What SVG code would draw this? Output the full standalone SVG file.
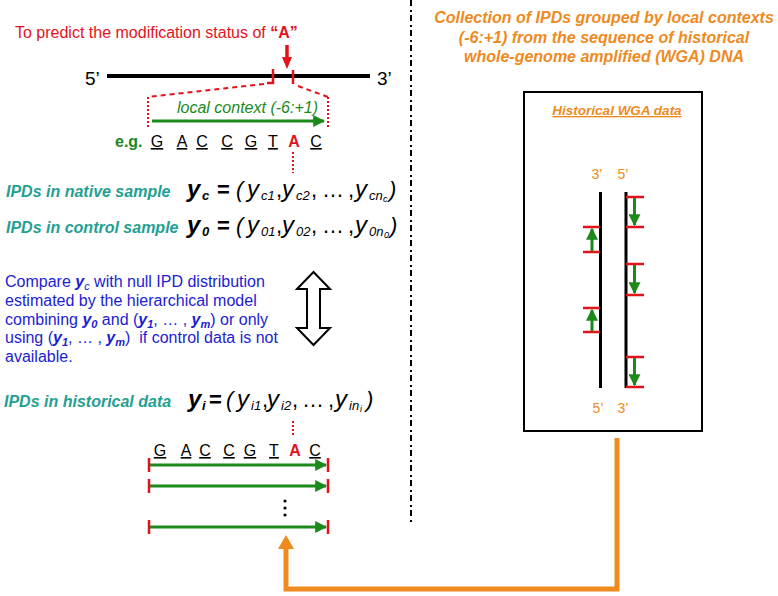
<svg xmlns="http://www.w3.org/2000/svg" width="778" height="596" viewBox="0 0 778 596">
<style>
text{font-family:"Liberation Sans",Arial,sans-serif}
.red{fill:#e3121b}
.grn{fill:#1b8a1b}
.teal{fill:#1fa093;font-weight:bold;font-style:italic;font-size:16px}
.blue{fill:#1c1cd4;font-size:16px}
.org{fill:#ee8a1e}
.seq{font-size:16px;text-anchor:middle;text-decoration:underline}
.fy{font-size:24px;font-style:italic}
.fb{font-weight:bold}
.fs{font-size:13px;font-style:italic}
.fss{font-size:9px;font-style:italic}
.fn{font-size:22px}
.gline{stroke:#1b8a1b;stroke-width:3;fill:none}
.rbar{stroke:#e3121b;stroke-width:2.5}
.rdot{stroke:#e3121b;stroke-width:2;stroke-dasharray:2 2;fill:none}
.rdash{stroke:#e3121b;stroke-width:2;stroke-dasharray:5 4;fill:none}
</style>
<defs>
<marker id="ga" viewBox="0 0 10 10" refX="9" refY="5" markerWidth="4" markerHeight="4" markerUnits="strokeWidth" orient="auto">
<path d="M0,0 L10,5 L0,10 Z" fill="#1b8a1b"/>
</marker>
</defs>

<!-- separator -->
<line x1="411" y1="0" x2="411" y2="525" stroke="#000" stroke-width="2" stroke-dasharray="6 4 2 3"/>

<g id="prediction-header">
<text x="15" y="38" class="red" font-size="16">To predict the modification status of <tspan font-weight="bold">“A”</tspan></text>
<path d="M287,45 V58" stroke="#e3121b" stroke-width="3.5"/>
<path d="M282,57 L292,57 L287,69 Z" fill="#e3121b"/>
</g>

<g id="dna-strand">
<text x="85" y="85" font-size="19">5’</text>
<text x="377" y="85" font-size="19">3’</text>
<line x1="107" y1="76" x2="370" y2="76" stroke="#000" stroke-width="4"/>
<path d="M267,83 H273 V69" class="rbar" fill="none"/>
<line x1="293" y1="70" x2="293" y2="84" class="rbar"/>
<path d="M264,84 L148,97" class="rdash"/>
<path d="M298,86 L328,97" class="rdash"/>
<line x1="148" y1="97" x2="148" y2="128" class="rdot"/>
<line x1="328" y1="97" x2="328" y2="128" class="rdot"/>
</g>

<g id="local-context">
<text x="177" y="113" class="grn" font-size="16" font-style="italic">local context (-6:+1)</text>
<line x1="152" y1="121" x2="324" y2="121" class="gline" marker-end="url(#ga)"/>
</g>

<g id="example-sequence">
<text x="115" y="147" class="grn" font-size="16" font-weight="bold">e.g.</text>
<text x="157" y="147" class="seq">G</text>
<text x="182" y="147" class="seq">A</text>
<text x="202" y="147" class="seq">C</text>
<text x="227" y="147" class="seq">C</text>
<text x="251" y="147" class="seq">G</text>
<text x="273" y="147" class="seq">T</text>
<text x="294" y="147" font-size="16" text-anchor="middle" font-weight="bold" class="red">A</text>
<text x="316" y="147" class="seq">C</text>
<line x1="293" y1="152" x2="293" y2="173" class="rdot"/>
</g>

<g id="native-ipds">
<text x="6" y="197" class="teal">IPDs in native sample</text>
<text y="197"><tspan x="187" class="fy fb">y</tspan><tspan x="202" dy="3" class="fs fb">c</tspan><tspan x="217" dy="-3" class="fn fb">=</tspan><tspan x="236" class="fn" font-style="italic">(</tspan><tspan x="247" class="fy">y</tspan><tspan x="261" dy="3" class="fs">c1</tspan><tspan x="276" dy="-3" class="fn">,</tspan><tspan x="282" class="fy">y</tspan><tspan x="296" dy="3" class="fs">c2</tspan><tspan x="311" dy="-3" class="fn">,</tspan><tspan x="322" class="fn">…</tspan><tspan x="348" class="fn">,</tspan><tspan x="355" class="fy">y</tspan><tspan x="369" dy="3" class="fs">cn</tspan><tspan x="383" dy="2" class="fss">c</tspan><tspan x="389" dy="-5" class="fn" font-style="italic">)</tspan></text>
</g>

<g id="control-ipds">
<text x="6" y="233" class="teal">IPDs in control sample</text>
<text y="233"><tspan x="187" class="fy fb">y</tspan><tspan x="202" dy="3" class="fs fb">0</tspan><tspan x="217" dy="-3" class="fn fb">=</tspan><tspan x="236" class="fn" font-style="italic">(</tspan><tspan x="247" class="fy">y</tspan><tspan x="261" dy="3" class="fs">01</tspan><tspan x="276" dy="-3" class="fn">,</tspan><tspan x="282" class="fy">y</tspan><tspan x="296" dy="3" class="fs">02</tspan><tspan x="311" dy="-3" class="fn">,</tspan><tspan x="322" class="fn">…</tspan><tspan x="348" class="fn">,</tspan><tspan x="355" class="fy">y</tspan><tspan x="369" dy="3" class="fs">0n</tspan><tspan x="384" dy="2" class="fss">0</tspan><tspan x="390" dy="-5" class="fn" font-style="italic">)</tspan></text>
</g>

<g id="compare-note">
<text x="5" y="287" class="blue">Compare <tspan font-weight="bold" font-style="italic">y</tspan><tspan font-size="11" font-style="italic" dy="3">c</tspan><tspan dy="-3"> with null IPD distribution</tspan></text>
<text x="5" y="306" class="blue">estimated by the hierarchical model</text>
<text x="5" y="325" class="blue">combining <tspan font-weight="bold" font-style="italic">y</tspan><tspan font-size="11" font-weight="bold" font-style="italic" dy="3">0</tspan><tspan dy="-3"> and (</tspan><tspan font-weight="bold" font-style="italic">y</tspan><tspan font-size="11" font-weight="bold" font-style="italic" dy="3">1</tspan><tspan dy="-3">, … , </tspan><tspan font-weight="bold" font-style="italic">y</tspan><tspan font-size="11" font-weight="bold" font-style="italic" dy="3">m</tspan><tspan dy="-3">) or only</tspan></text>
<text x="5" y="343" class="blue">using (<tspan font-weight="bold" font-style="italic">y</tspan><tspan font-size="11" font-weight="bold" font-style="italic" dy="3">1</tspan><tspan dy="-3">, … , </tspan><tspan font-weight="bold" font-style="italic">y</tspan><tspan font-size="11" font-weight="bold" font-style="italic" dy="3">m</tspan><tspan dy="-3">)&#160; if control data is not</tspan></text>
<text x="5" y="362" class="blue">available.</text>
</g>

<g id="double-arrow">
<polygon points="313.5,272 330,289 320,289 320,328 330,328 313.5,345 297,328 307,328 307,289 297,289" fill="#fff" stroke="#000" stroke-width="2" stroke-linejoin="miter"/>
</g>

<g id="historical-ipds">
<text x="4" y="407" class="teal">IPDs in historical data</text>
<text y="407"><tspan x="188" class="fy fb">y</tspan><tspan x="202" dy="3" class="fs fb">i</tspan><tspan x="209" dy="-3" class="fn fb">=</tspan><tspan x="226" class="fn" font-style="italic">(</tspan><tspan x="237" class="fy">y</tspan><tspan x="251" dy="3" class="fs">i1</tspan><tspan x="262" dy="-3" class="fn">,</tspan><tspan x="267" class="fy">y</tspan><tspan x="281" dy="3" class="fs">i2</tspan><tspan x="292" dy="-3" class="fn">,</tspan><tspan x="302" class="fn">…</tspan><tspan x="328" class="fn">,</tspan><tspan x="335" class="fy">y</tspan><tspan x="349" dy="3" class="fs">in</tspan><tspan x="360" dy="2" class="fss">i</tspan><tspan x="366" dy="-5" class="fn" font-style="italic">)</tspan></text>
<line x1="293" y1="421" x2="293" y2="437" class="rdot"/>
</g>

<g id="historical-contexts">
<text x="160" y="456" class="seq">G</text>
<text x="186" y="456" class="seq">A</text>
<text x="205" y="456" class="seq">C</text>
<text x="229" y="456" class="seq">C</text>
<text x="250" y="456" class="seq">G</text>
<text x="274" y="456" class="seq">T</text>
<text x="295" y="456" font-size="16" text-anchor="middle" font-weight="bold" class="red">A</text>
<text x="315" y="456" class="seq">C</text>
<line x1="150" y1="465" x2="326" y2="465" class="gline" marker-end="url(#ga)"/>
<line x1="150" y1="486" x2="326" y2="486" class="gline" marker-end="url(#ga)"/>
<line x1="150" y1="527" x2="326" y2="527" class="gline" marker-end="url(#ga)"/>
<line x1="149" y1="458" x2="149" y2="472" class="rbar"/>
<line x1="328" y1="458" x2="328" y2="472" class="rbar"/>
<line x1="149" y1="479" x2="149" y2="493" class="rbar"/>
<line x1="328" y1="479" x2="328" y2="493" class="rbar"/>
<line x1="149" y1="520" x2="149" y2="534" class="rbar"/>
<line x1="328" y1="520" x2="328" y2="534" class="rbar"/>
<circle cx="285" cy="501" r="1.6"/>
<circle cx="285" cy="508" r="1.6"/>
<circle cx="285" cy="515" r="1.6"/>
</g>

<g id="wga-title">
<text x="604" y="23" class="org" font-size="16" font-weight="bold" font-style="italic" text-anchor="middle">Collection of IPDs grouped by local contexts</text>
<text x="604" y="43" class="org" font-size="16" font-weight="bold" font-style="italic" text-anchor="middle">(-6:+1) from the sequence of historical</text>
<text x="604" y="62" class="org" font-size="16" font-weight="bold" font-style="italic" text-anchor="middle">whole-genome amplified (WGA) DNA</text>
</g>

<g id="wga-box">
<rect x="524" y="92" width="178" height="339" fill="#fff" stroke="#000" stroke-width="2"/>
<text x="617" y="115" class="org" font-size="13.5" font-weight="bold" font-style="italic" text-anchor="middle" text-decoration="underline">Historical WGA data</text>
<text x="597" y="179" class="org" font-size="14" text-anchor="middle">3’</text>
<text x="623" y="179" class="org" font-size="14" text-anchor="middle">5’</text>
<text x="598" y="413" class="org" font-size="14" text-anchor="middle">5’</text>
<text x="623" y="413" class="org" font-size="14" text-anchor="middle">3’</text>
<line x1="600.5" y1="192" x2="600.5" y2="388" stroke="#000" stroke-width="3"/>
<line x1="626" y1="192" x2="626" y2="388" stroke="#000" stroke-width="3"/>
<g class="rbar">
<line x1="626" y1="197" x2="644" y2="197"/>
<line x1="626" y1="227" x2="644" y2="227"/>
<line x1="626" y1="264" x2="644" y2="264"/>
<line x1="626" y1="295" x2="644" y2="295"/>
<line x1="626" y1="357" x2="644" y2="357"/>
<line x1="626" y1="387" x2="644" y2="387"/>
<line x1="583" y1="227" x2="600" y2="227"/>
<line x1="583" y1="252" x2="600" y2="252"/>
<line x1="583" y1="308" x2="600" y2="308"/>
<line x1="583" y1="332" x2="600" y2="332"/>
</g>
<line x1="634.5" y1="198" x2="634.5" y2="225" class="gline" marker-end="url(#ga)"/>
<line x1="634.5" y1="265" x2="634.5" y2="293" class="gline" marker-end="url(#ga)"/>
<line x1="634.5" y1="358" x2="634.5" y2="385" class="gline" marker-end="url(#ga)"/>
<line x1="592" y1="251" x2="592" y2="229" class="gline" marker-end="url(#ga)"/>
<line x1="592" y1="331" x2="592" y2="310" class="gline" marker-end="url(#ga)"/>
</g>

<g id="connectors">
<path d="M617,438 V589 H286 V547" fill="none" stroke="#ee8a1e" stroke-width="5"/>
<path d="M286,535 L278,549 L294,549 Z" fill="#ee8a1e"/>
</g>
</svg>
